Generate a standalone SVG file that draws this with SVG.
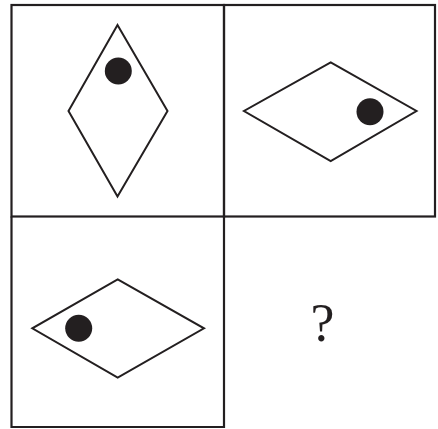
<svg xmlns="http://www.w3.org/2000/svg" width="438" height="429" viewBox="0 0 438 429">
<style>
.b{fill:none;stroke:#231f20;stroke-width:2.2}
.d{fill:none;stroke:#231f20;stroke-width:2;stroke-linejoin:miter}
.dot{fill:#231f20}
.q{font-family:"Liberation Serif",serif;font-size:54px;fill:#231f20;text-anchor:middle}
</style>
<rect width="438" height="429" fill="#fff"/>
<g id="grid">
<rect class="b" x="11.5" y="5" width="212.5" height="211.5"/>
<rect class="b" x="224" y="5" width="211" height="211.5"/>
<polyline class="b" points="11.5,216.5 11.5,427 224,427 224,216.5"/>
</g>
<g id="cell1">
<polygon class="d" points="117.5,25 167.5,111 117.5,196.5 68.5,111"/>
<circle class="dot" cx="118.3" cy="71" r="13.5"/>
</g>
<g id="cell2">
<polygon class="d" points="330.7,62.3 416.5,111 330.7,161 244,111"/>
<circle class="dot" cx="370" cy="111.7" r="13.5"/>
</g>
<g id="cell3">
<polygon class="d" points="117.7,279.3 204,328.3 117.7,377.7 32.3,328.3"/>
<circle class="dot" cx="78.7" cy="328.3" r="13.5"/>
</g>
<g id="cell4">
<text class="q" x="322.5" y="341">?</text>
</g>
</svg>
